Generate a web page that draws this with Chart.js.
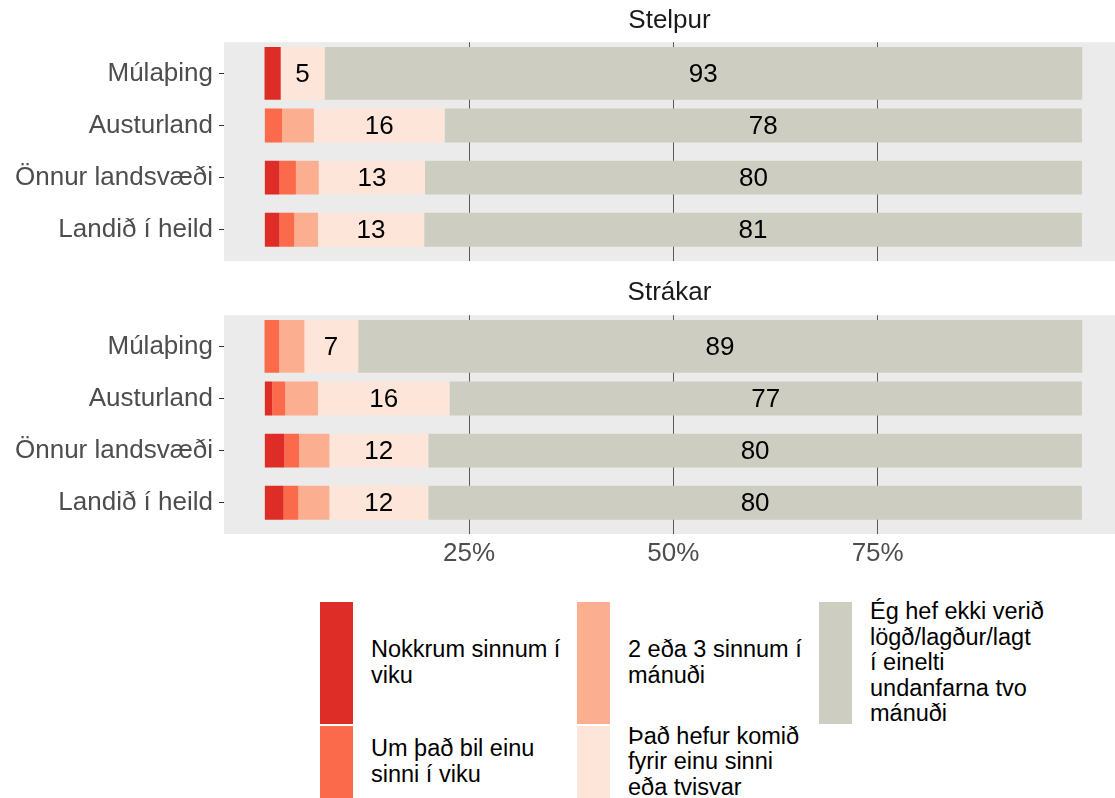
<!DOCTYPE html>
<html lang="is">
<head>
<meta charset="utf-8">
<script src="https://cdn.jsdelivr.net/npm/chart.js@4.4.1/dist/chart.umd.min.js"></script>
<style>
  body { margin: 0; background: #fff; font-family: "Liberation Sans", Arial, sans-serif; }
  #wrap { position: relative; width: 1115px; height: 798px; overflow: hidden; }
  #wrap canvas { position: absolute; left: 0; }
  #chart-stelpur { top: 0; }
  #chart-strakar { top: 262px; }
  .key { position: absolute; width: 33px; }
  .lab {
    position: absolute; display: flex; align-items: center;
    font-size: 23.5px; line-height: 25.6px; color: #000; white-space: pre-line;
  }
</style>
</head>
<body>
<div id="wrap">
  <canvas id="chart-stelpur" width="1115" height="262"></canvas>
  <canvas id="chart-strakar" width="1115" height="330"></canvas>
  <div id="legend"></div>
</div>
<script>
const regions = ['Múlaþing', 'Austurland', 'Önnur landsvæði', 'Landið í heild'];
const answers = [
  'Nokkrum sinnum í\nviku',
  'Um það bil einu\nsinni í viku',
  '2 eða 3 sinnum í\nmánuði',
  'Það hefur komið\nfyrir einu sinni\neða tvisvar',
  'Ég hef ekki verið\nlögð/lagður/lagt\ní einelti\nundanfarna tvo\nmánuði'
];
const colors = ['#DE2D26', '#FB6A4A', '#FCAE91', '#FEE5D9', '#CDCDC1'];
const xBreaks = [25, 50, 75];

// Stelpur, % per region (same order as regions)
const stelpurNokkrum = [1.9, 0.0, 1.8, 1.8];
const stelpurEinuSinni = [0.0, 2.1, 2.0, 1.8];
const stelpur2eda3 = [0.0, 3.9, 2.8, 2.9];
const stelpurEinuTvisvar = [5.4, 16.0, 13.0, 13.0];
const stelpurEkki = [92.7, 78.0, 80.4, 80.5];

// Strákar
const strakarNokkrum = [0.0, 0.9, 2.4, 2.3];
const strakarEinuSinni = [1.7, 1.6, 1.8, 1.8];
const strakar2eda3 = [3.1, 4.0, 3.7, 3.8];
const strakarEinuTvisvar = [6.6, 16.1, 12.1, 12.1];
const strakarEkki = [88.6, 77.4, 80.0, 80.0];

const stelpurValues = [stelpurNokkrum, stelpurEinuSinni, stelpur2eda3, stelpurEinuTvisvar, stelpurEkki];
const strakarValues = [strakarNokkrum, strakarEinuSinni, strakar2eda3, strakarEinuTvisvar, strakarEkki];

const fontFamily = '"Liberation Sans", Arial, sans-serif';

// grey panel behind the bars
const panelBg = {
  id: 'panelBg',
  beforeDraw(chart) {
    const { ctx, chartArea: a } = chart;
    ctx.save();
    ctx.fillStyle = '#EBEBEB';
    ctx.fillRect(a.left, a.top, a.right - a.left, a.bottom - a.top);
    ctx.restore();
  }
};

// rounded value in the middle of each segment, only for the wider ones
const segmentLabels = {
  id: 'segmentLabels',
  afterDatasetsDraw(chart) {
    const { ctx } = chart;
    ctx.save();
    ctx.font = '26px ' + fontFamily;
    ctx.fillStyle = '#000';
    ctx.textAlign = 'center';
    ctx.textBaseline = 'middle';
    chart.data.datasets.forEach((ds, i) => {
      const meta = chart.getDatasetMeta(i);
      meta.data.forEach((el, j) => {
        const v = Math.round(ds.data[j].x);
        if (v < 5) return;
        const { x, base, y } = el.getProps(['x', 'base', 'y'], true);
        ctx.fillText(String(v), (x + base) / 2, y + 1);
      });
    });
    ctx.restore();
  }
};

function buildDatasets(values) {
  const datasets = [];
  answers.forEach((ans, i) => {
    const mula = [];
    const rest = [];
    regions.forEach((r, j) => {
      const v = values[i][j];
      if (!v) return;
      (j === 0 ? mula : rest).push({ x: v, y: j });
    });
    // Múlaþing is drawn with a wider bar than the other regions
    datasets.push({ label: ans, data: mula, backgroundColor: colors[i],
      barPercentage: 1.0, categoryPercentage: 1 });
    datasets.push({ label: ans, data: rest, backgroundColor: colors[i],
      barPercentage: 0.65, categoryPercentage: 1 });
  });
  return datasets;
}

function buildFacet(id, title, values, showTicks, titlePad, xHeight) {
  return new Chart(document.getElementById(id), {
    type: 'bar',
    data: { datasets: buildDatasets(values) },
    plugins: [panelBg, segmentLabels],
    options: {
      indexAxis: 'y',
      responsive: false,
      animation: false,
      devicePixelRatio: 1,
      layout: { padding: { left: 0, right: 0, top: 0, bottom: 1 } },
      plugins: {
        legend: { display: false },
        tooltip: { enabled: false },
        title: {
          display: true,
          text: title,
          fullSize: false,
          color: '#1A1A1A',
          font: { family: fontFamily, size: 26, weight: 'normal' },
          padding: titlePad,
        },
      },
      scales: {
        x: {
          type: 'linear',
          min: -5,
          max: 104.05,
          stacked: true,
          afterBuildTicks: s => { s.ticks = xBreaks.map(v => ({ value: v })); },
          afterFit: s => { s.height = xHeight; },
          ticks: {
            display: showTicks,
            padding: 4,
            color: '#4D4D4D',
            font: { family: fontFamily, size: 26 },
            callback: v => v + '%',
          },
          grid: { color: '#595959', lineWidth: 1, drawTicks: false },
          border: { display: false },
        },
        y: {
          type: 'linear',
          min: -0.6,
          max: 3.6,
          offset: false,
          reverse: true,
          stacked: true,
          afterBuildTicks: s => { s.ticks = regions.map((r, j) => ({ value: j })); },
          afterFit: s => {
            s.width = 224;
            // labels sit well inside the panel, no extra room needed above/below
            s.paddingTop = 0;
            s.paddingBottom = 0;
          },
          ticks: {
            autoSkip: false,
            padding: 6,
            color: '#4D4D4D',
            font: { family: fontFamily, size: 26 },
            callback: v => regions[v],
          },
          grid: { offset: false, drawOnChartArea: false, drawTicks: true, tickLength: 5,
            color: '#333333', tickColor: '#333333' },
          border: { display: false },
        },
      },
    },
  });
}

buildFacet('chart-stelpur', 'Stelpur', stelpurValues, false, { top: 5, bottom: 6 }, 0);
buildFacet('chart-strakar', 'Strákar', strakarValues, true, { top: 15, bottom: 7 }, 57);

// legend, filled column by column
const legendCols = [320, 577, 819];
const legendRows = [{ top: 602, height: 122 }, { top: 726, height: 72 }];
const legendEl = document.getElementById('legend');
answers.forEach((ans, i) => {
  const col = legendCols[Math.floor(i / 2)];
  const row = legendRows[i % 2];
  legendEl.insertAdjacentHTML('beforeend', `
    <div class="key" style="left:${col}px;top:${row.top}px;height:${row.height}px;background:${colors[i]}"></div>
    <div class="lab" style="left:${col + 51}px;top:${row.top}px;height:${row.height}px">${ans}</div>
  `);
});
</script>
</body>
</html>
